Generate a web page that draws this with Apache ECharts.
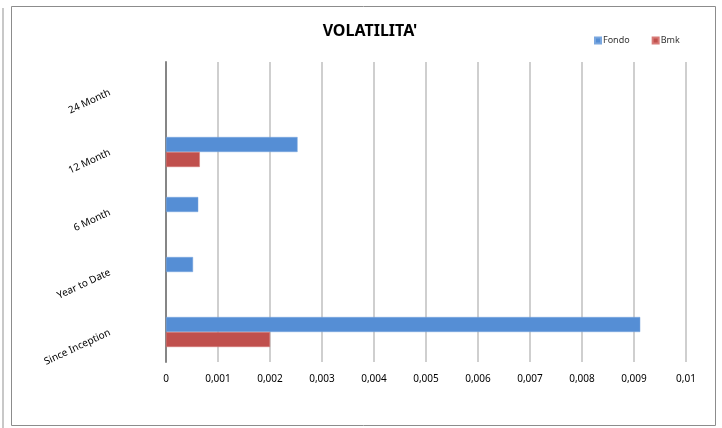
<!DOCTYPE html>
<html>
<head>
<meta charset="utf-8">
<script src="https://cdn.jsdelivr.net/npm/echarts@6/dist/echarts.min.js"></script>
<style>
  html, body { margin: 0; padding: 0; background: #ffffff; }
</style>
</head>
<body>
<div id="main" style="width: 722px;height: 428px;"></div>
<script>
// categorie (dal basso verso l'alto)
var periodi = ['Since Inception', 'Year to Date', '6 Month', '12 Month', '24 Month'];
// volatilita' fondo e benchmark
var fondo = [0.00912, 0.00052, 0.00062, 0.00253, null];
var bmk = [0.0020, null, null, 0.00065, null];
var asseX = { min: 0, max: 0.01, interval: 0.001 };

var chartDom = document.getElementById('main');
var myChart = echarts.init(chartDom);

function virgola(v) {
  return String(+v.toFixed(4)).replace('.', ',');
}

var option = {
  animation: false,
  backgroundColor: '#ffffff',
  textStyle: { fontFamily: 'Noto Sans' },
  title: {
    text: "VOLATILITA'",
    left: 365,
    textAlign: 'center',
    top: 18,
    textStyle: { fontSize: 16, fontWeight: 'bold', color: '#000000', fontFamily: 'Noto Sans' }
  },
  legend: {
    data: ['Fondo', 'Bmk'],
    left: 589,
    top: 31,
    itemWidth: 6,
    itemHeight: 6,
    itemGap: 22,
    icon: 'rect',
    textStyle: { fontSize: 9, color: '#333333', padding: [0, 0, 0, -3] }
  },
  grid: {
    left: 166,
    right: 36,
    top: 62,
    bottom: 66,
    containLabel: false
  },
  xAxis: {
    type: 'value',
    min: asseX.min,
    max: asseX.max,
    interval: asseX.interval,
    axisLine: { show: false },
    axisTick: { show: false },
    axisLabel: {
      margin: 12,
      fontSize: 10,
      color: '#000000',
      formatter: virgola
    },
    splitLine: { show: true, lineStyle: { color: '#bfbfbf', width: 1.5 } }
  },
  yAxis: {
    type: 'category',
    data: periodi,
    axisLine: { show: true, lineStyle: { color: '#868686', width: 2 } },
    axisTick: { show: false },
    axisLabel: {
      rotate: 25,
      margin: 56,
      fontSize: 10,
      color: '#000000'
    },
    splitLine: { show: false }
  },
  graphic: [
    { type: 'rect', shape: { x: 11.5, y: 6.5, width: 704, height: 419 }, style: { fill: 'none', stroke: '#8c8c8c', lineWidth: 1 } },
    { type: 'line', shape: { x1: 3, y1: 8, x2: 3, y2: 428 }, style: { stroke: '#c8c8c8', lineWidth: 2 } }
  ],
  series: [
    {
      name: 'Fondo',
      type: 'bar',
      data: fondo,
      barCategoryGap: '50%',
      barGap: '0%',
      itemStyle: { color: '#558ed5', borderColor: '#7aa7df', borderWidth: 0.5 }
    },
    {
      name: 'Bmk',
      type: 'bar',
      data: bmk,
      barCategoryGap: '50%',
      barGap: '0%',
      itemStyle: { color: '#c0504d', borderColor: '#d77a77', borderWidth: 0.5 }
    }
  ]
};

option && myChart.setOption(option);
</script>
</body>
</html>
